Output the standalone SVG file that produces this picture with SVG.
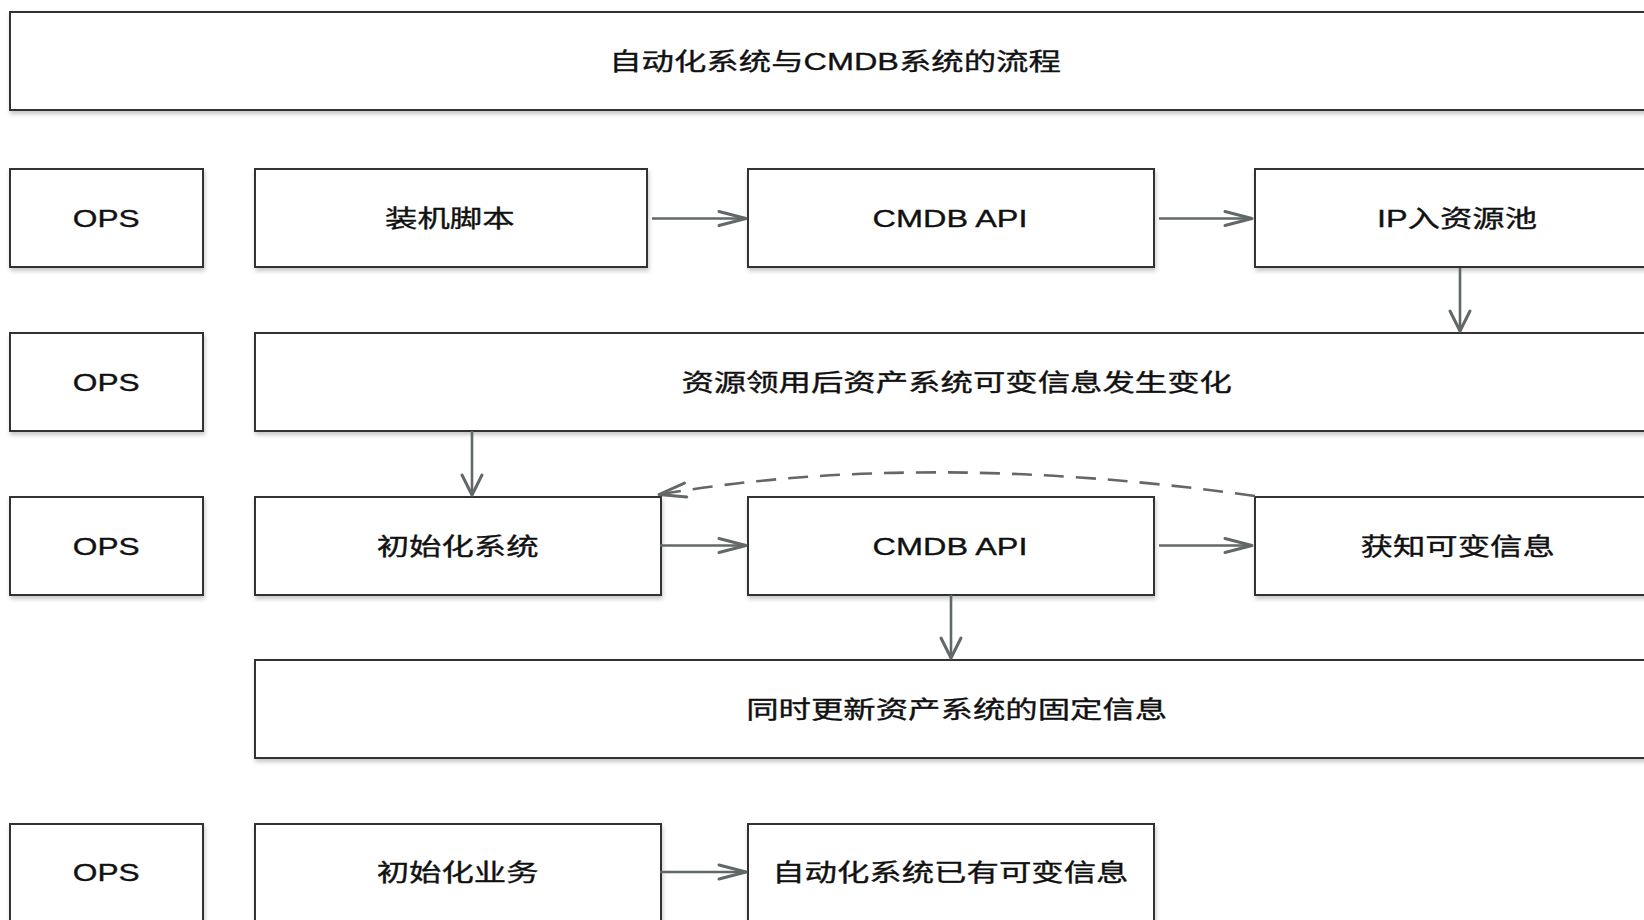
<svg xmlns="http://www.w3.org/2000/svg" width="1644" height="920" viewBox="0 0 1644 920">
<defs>
<filter id="sh" x="-5%" y="-10%" width="110%" height="130%">
<feDropShadow dx="1" dy="3" stdDeviation="2" flood-color="#000" flood-opacity="0.22"/>
</filter>
<marker id="ah" markerUnits="userSpaceOnUse" markerWidth="32" markerHeight="20" refX="30" refY="10" orient="auto" overflow="visible">
<path d="M3,3 L30,10 L3,17" fill="none" stroke="#626868" stroke-width="3" stroke-linecap="round" stroke-linejoin="round"/>
</marker>
<marker id="av" markerUnits="userSpaceOnUse" markerWidth="24" markerHeight="26" refX="22" refY="11" orient="auto" overflow="visible">
<path d="M2,1 L22,11 L2,21" fill="none" stroke="#626868" stroke-width="3" stroke-linecap="round" stroke-linejoin="round"/>
</marker>
</defs>
<style>
.box{fill:#fff;stroke:#333;stroke-width:2;filter:url(#sh)}
.t{font-family:"Liberation Sans","Noto Sans CJK SC",sans-serif;font-size:24px;fill:#111;stroke:#111;stroke-width:0.35;text-anchor:middle}
.c{fill:none;stroke:#626868;stroke-width:2.6}
.h{marker-end:url(#ah)}
.v{marker-end:url(#av)}
.d{stroke-dasharray:20 12}
</style>
<rect width="1644" height="920" fill="#fff"/>

<g id="title"><rect class="box" x="10" y="12" width="1650" height="98"/><text class="t" transform="translate(835,69.5) scale(1.35,1)">自动化系统与CMDB系统的流程</text></g>

<g id="ops1"><rect class="box" x="10" y="169" width="193" height="98"/><text class="t" transform="translate(106.3,227) scale(1.32,1)">OPS</text></g>
<g id="install"><rect class="box" x="255" y="169" width="392" height="98"/><text class="t" transform="translate(449.8,227) scale(1.35,1)">装机脚本</text></g>
<g id="cmdb1"><rect class="box" x="748" y="169" width="406" height="98"/><text class="t" transform="translate(950,227) scale(1.35,1)">CMDB API</text></g>
<g id="ippool"><rect class="box" x="1255" y="169" width="405" height="98"/><text class="t" transform="translate(1457,227) scale(1.35,1)">IP入资源池</text></g>

<g id="ops2"><rect class="box" x="10" y="333" width="193" height="98"/><text class="t" transform="translate(106.3,390.5) scale(1.32,1)">OPS</text></g>
<g id="claim"><rect class="box" x="255" y="333" width="1405" height="98"/><text class="t" transform="translate(956.7,390.5) scale(1.35,1)">资源领用后资产系统可变信息发生变化</text></g>

<g id="ops3"><rect class="box" x="10" y="497" width="193" height="98"/><text class="t" transform="translate(106.3,554.5) scale(1.32,1)">OPS</text></g>
<g id="initsys"><rect class="box" x="255" y="497" width="406" height="98"/><text class="t" transform="translate(457.6,554.5) scale(1.35,1)">初始化系统</text></g>
<g id="cmdb2"><rect class="box" x="748" y="497" width="406" height="98"/><text class="t" transform="translate(950,554.5) scale(1.35,1)">CMDB API</text></g>
<g id="getvar"><rect class="box" x="1255" y="497" width="405" height="98"/><text class="t" transform="translate(1457.7,554.5) scale(1.35,1)">获知可变信息</text></g>

<g id="updfixed"><rect class="box" x="255" y="660" width="1405" height="98"/><text class="t" transform="translate(956.7,717.5) scale(1.35,1)">同时更新资产系统的固定信息</text></g>

<g id="ops5"><rect class="box" x="10" y="824" width="193" height="110"/><text class="t" transform="translate(106.3,881) scale(1.32,1)">OPS</text></g>
<g id="initbiz"><rect class="box" x="255" y="824" width="406" height="110"/><text class="t" transform="translate(457.6,881) scale(1.35,1)">初始化业务</text></g>
<g id="autohas"><rect class="box" x="748" y="824" width="406" height="110"/><text class="t" transform="translate(950.3,881) scale(1.35,1)">自动化系统已有可变信息</text></g>

<g id="connectors">
<path class="c h" d="M652,218.5 L746,218.5"/>
<path class="c h" d="M1159,218.5 L1252,218.5"/>
<path class="c v" d="M1460,268 L1460,331"/>
<path class="c v" d="M472,431 L472,495"/>
<path class="c h" d="M660,545.5 L746,545.5"/>
<path class="c h" d="M1159,545.5 L1252,545.5"/>
<path class="c v" d="M951,595 L951,658"/>
<path class="c h" d="M660,872 L746,872"/>
<path class="c h d" d="M1255,496 Q924,449.5 659,494.5"/>
</g>
</svg>
